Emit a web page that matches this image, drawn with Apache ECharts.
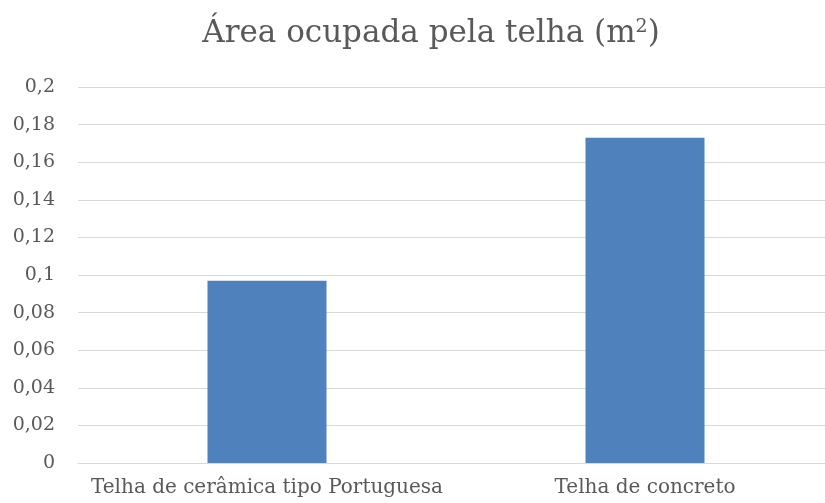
<!DOCTYPE html>
<html>
<head>
<meta charset="utf-8">
<script src="https://cdn.jsdelivr.net/npm/echarts@6/dist/echarts.min.js"></script>
<style>html,body{margin:0;padding:0;background:#fff;}#c{width:825px;height:503px;}</style>
</head>
<body>
<div id="c"></div>
<script>
const categories = ["Telha de cerâmica tipo Portuguesa", "Telha de concreto"];
const values = [0.097, 0.173];
const yTicks = [0, 0.02, 0.04, 0.06, 0.08, 0.1, 0.12, 0.14, 0.16, 0.18, 0.2];

const chart = echarts.init(document.getElementById('c'), null, {renderer: 'canvas'});
const font = '"DejaVu Serif", serif';
chart.setOption({
  animation: false,
  backgroundColor: '#ffffff',
  title: {
    text: 'Área ocupada pela telha (m{sup|2})',
    left: 426, textAlign: 'center',
    top: 13,
    textStyle: {
      fontFamily: font, fontSize: 31, fontWeight: 'normal', color: '#595959',
      rich: { sup: { fontFamily: font, fontSize: 19, color: '#595959', verticalAlign: 'top', padding: [0,0,12,0] } }
    }
  },
  grid: { left: 78, width: 756, top: 87, bottom: 40, containLabel: false, outerBoundsMode: 'none' },
  xAxis: {
    type: 'category',
    data: categories,
    axisLine: { lineStyle: { color: '#d9d9d9', width: 1 } },
    axisTick: { show: false },
    axisLabel: { interval: 0, hideOverlap: false, fontFamily: font, fontSize: 20, color: '#595959', margin: 15 }
  },
  yAxis: {
    type: 'value',
    min: yTicks[0], max: yTicks[yTicks.length - 1], interval: 0.02,
    axisLine: { show: false },
    axisTick: { show: false },
    splitLine: { lineStyle: { color: '#d9d9d9', width: 1 } },
    axisLabel: {
      fontFamily: font, fontSize: 19, color: '#595959', margin: 23,
      formatter: v => String(Math.round(v * 100) / 100).replace('.', ',')
    }
  },
  series: [{
    type: 'bar',
    data: values,
    barWidth: 119,
    itemStyle: { color: '#4f81bd' }
  }]
});
</script>
</body>
</html>
